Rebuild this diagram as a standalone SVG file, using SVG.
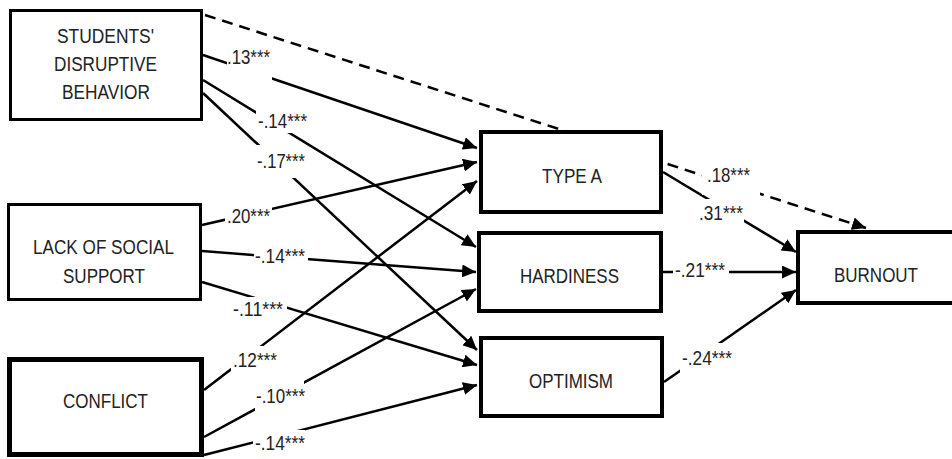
<svg xmlns="http://www.w3.org/2000/svg" width="952" height="459" viewBox="0 0 952 459">
  <defs>
    <marker id="arr" viewBox="0 0 14 13" refX="14" refY="6.5" markerWidth="14" markerHeight="13" markerUnits="userSpaceOnUse" orient="auto">
      <path d="M0,0 L14,6.5 L0,13 z" fill="#000"/>
    </marker>
    <style>
      .c { stroke: #000; stroke-width: 2.5; fill: none; marker-end: url(#arr); }
      .d { stroke-dasharray: 11 7; }
      .bg { fill: #fff; stroke: none; }
      .box { fill: #fff; stroke: #000; }
      text { font-family: "Liberation Sans", Arial, sans-serif; font-size: 20px; fill: #222; }
    </style>
  </defs>
  <rect width="952" height="459" fill="#fff"/>

  <g id="connectors">
    <line class="c" x1="203" y1="55" x2="477" y2="148"/>
    <line class="c" x1="203" y1="80" x2="476" y2="247"/>
    <line class="c" x1="203" y1="93" x2="477" y2="350"/>
    <line class="c" x1="202" y1="225" x2="477" y2="162"/>
    <line class="c" x1="202" y1="251" x2="476" y2="272"/>
    <line class="c" x1="202" y1="282" x2="477" y2="365"/>
    <line class="c" x1="204" y1="390" x2="477" y2="181"/>
    <line class="c" x1="204" y1="437" x2="476" y2="289"/>
    <line class="c" x1="204" y1="455" x2="477" y2="385"/>
    <line class="c" x1="663" y1="172" x2="796" y2="252"/>
    <line class="c" x1="663" y1="272" x2="796" y2="272"/>
    <line class="c" x1="664" y1="382" x2="796" y2="290"/>
    <line class="c d" x1="205" y1="15" x2="866" y2="228"/>

    <rect class="bg" x="227" y="48" width="45" height="32"/>
    <rect class="bg" x="256" y="108" width="54" height="25"/>
    <rect class="bg" x="255" y="145" width="52" height="33"/>
    <rect class="bg" x="225" y="205" width="47" height="22"/>
    <rect class="bg" x="254" y="247" width="54" height="18"/>
    <rect class="bg" x="231" y="297" width="56" height="22"/>
    <rect class="bg" x="231" y="346" width="48" height="26"/>
    <rect class="bg" x="255" y="380" width="49" height="31"/>
    <rect class="bg" x="253" y="430" width="52" height="24"/>
    <rect class="bg" x="702" y="164" width="58" height="31"/>
    <rect class="bg" x="697" y="199" width="47" height="25"/>
    <rect class="bg" x="673" y="260" width="56" height="18"/>
    <rect class="bg" x="680" y="343" width="54" height="31"/>

    <text x="227" y="64" textLength="43" lengthAdjust="spacingAndGlyphs">.13***</text>
    <text x="258" y="128" textLength="49" lengthAdjust="spacingAndGlyphs">-.14***</text>
    <text x="257" y="168" textLength="48" lengthAdjust="spacingAndGlyphs">-.17***</text>
    <text x="227" y="223" textLength="43" lengthAdjust="spacingAndGlyphs">.20***</text>
    <text x="255" y="263" textLength="50" lengthAdjust="spacingAndGlyphs">-.14***</text>
    <text x="233" y="316" textLength="50" lengthAdjust="spacingAndGlyphs">-.11***</text>
    <text x="233" y="367" textLength="44" lengthAdjust="spacingAndGlyphs">.12***</text>
    <text x="256" y="403" textLength="49" lengthAdjust="spacingAndGlyphs">-.10***</text>
    <text x="255" y="450" textLength="50" lengthAdjust="spacingAndGlyphs">-.14***</text>
    <text x="707" y="182" textLength="43" lengthAdjust="spacingAndGlyphs">.18***</text>
    <text x="699" y="220" textLength="44" lengthAdjust="spacingAndGlyphs">.31***</text>
    <text x="675" y="277" textLength="50" lengthAdjust="spacingAndGlyphs">-.21***</text>
    <text x="682" y="365" textLength="50" lengthAdjust="spacingAndGlyphs">-.24***</text>
  </g>

  <g id="students-disruptive-behavior">
    <rect class="box" x="10.5" y="10.5" width="191" height="109" stroke-width="3"/>
    <text x="57" y="43" textLength="97" lengthAdjust="spacingAndGlyphs">STUDENTS'</text>
    <text x="54" y="71" textLength="103" lengthAdjust="spacingAndGlyphs">DISRUPTIVE</text>
    <text x="62" y="99" textLength="88" lengthAdjust="spacingAndGlyphs">BEHAVIOR</text>
  </g>
  <g id="lack-of-social-support">
    <rect class="box" x="8.5" y="204.5" width="192" height="95" stroke-width="3"/>
    <text x="33" y="254" textLength="141" lengthAdjust="spacingAndGlyphs">LACK OF SOCIAL</text>
    <text x="63" y="283" textLength="82" lengthAdjust="spacingAndGlyphs">SUPPORT</text>
  </g>
  <g id="conflict">
    <rect class="box" x="9.5" y="359.5" width="192" height="95" stroke-width="5"/>
    <text x="63" y="408" textLength="85" lengthAdjust="spacingAndGlyphs">CONFLICT</text>
  </g>
  <g id="type-a">
    <rect class="box" x="481" y="132" width="180" height="80" stroke-width="4"/>
    <text x="542" y="183" textLength="60" lengthAdjust="spacingAndGlyphs">TYPE A</text>
  </g>
  <g id="hardiness">
    <rect class="box" x="479" y="233" width="182" height="78" stroke-width="4"/>
    <text x="520" y="283" textLength="99" lengthAdjust="spacingAndGlyphs">HARDINESS</text>
  </g>
  <g id="optimism">
    <rect class="box" x="481" y="338" width="181" height="78" stroke-width="4"/>
    <text x="529" y="388" textLength="84" lengthAdjust="spacingAndGlyphs">OPTIMISM</text>
  </g>
  <g id="burnout">
    <rect class="box" x="798" y="232" width="170" height="71" stroke-width="4"/>
    <text x="834" y="282" textLength="84" lengthAdjust="spacingAndGlyphs">BURNOUT</text>
  </g>
</svg>
